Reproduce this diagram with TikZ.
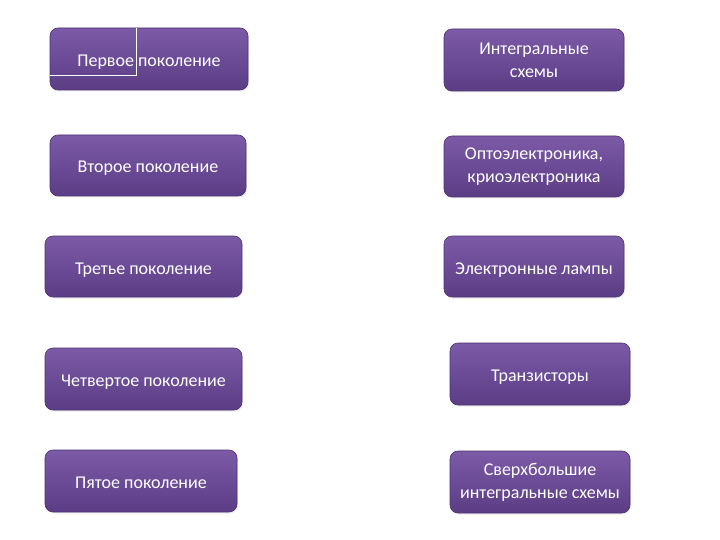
\documentclass[tikz,border=0pt]{standalone}
\usepackage{fontspec}
\setmainfont{Carlito}
\usetikzlibrary{shadows}

\definecolor{boxtop}{HTML}{7C5AA7}
\definecolor{boxbot}{HTML}{5B3D85}

\begin{document}
\begin{tikzpicture}[x=1pt, y=-1pt,
  every node/.style={rounded corners=8pt, draw=boxbot!85!black, line width=0.6pt,
    top color=boxtop, bottom color=boxbot, text=white, align=center,
    font=\fontsize{18}{23}\selectfont, inner sep=0pt, minimum height=62pt,
    drop shadow={opacity=0.15, shadow xshift=1pt, shadow yshift=-1.5pt}},
  oneline/.style={text height=15pt, text depth=0pt}]
\useasboundingbox (0,0) rectangle (720,540);

% generations
\node[oneline, minimum width=198pt] (gen1) at (149,59) {Первое поколение};
\node[oneline, minimum width=196pt, minimum height=61pt] (gen2) at (148,165.5) {Второе поколение};
\node[oneline, minimum width=197pt, minimum height=61pt] (gen3) at (143.5,266.5) {Третье поколение};
\node[oneline, minimum width=197pt] (gen4) at (143.5,379) {Четвертое поколение};
\node[oneline, minimum width=192pt] (gen5) at (141,481) {Пятое поколение};

% element base
\node[minimum width=180pt] (tech1) at (534,60) {Интегральные\\схемы};
\node[minimum width=180pt, minimum height=61pt] (tech2) at (534,166.5) {Оптоэлектроника,\\криоэлектроника};
\node[oneline, minimum width=180pt, minimum height=61pt] (tech3) at (534,266.5) {Электронные лампы};
\node[oneline, minimum width=180pt] (tech4) at (540,374) {Транзисторы};
\node[minimum width=180pt] (tech5) at (540,482) {Сверхбольшие\\интегральные схемы};

% stray frame inside the first box
\coordinate (mark) at (136,75);
\draw[white, line width=0.8pt] (gen1.north west -| mark) -- (mark) -- (gen1.west |- mark);
\end{tikzpicture}
\end{document}
